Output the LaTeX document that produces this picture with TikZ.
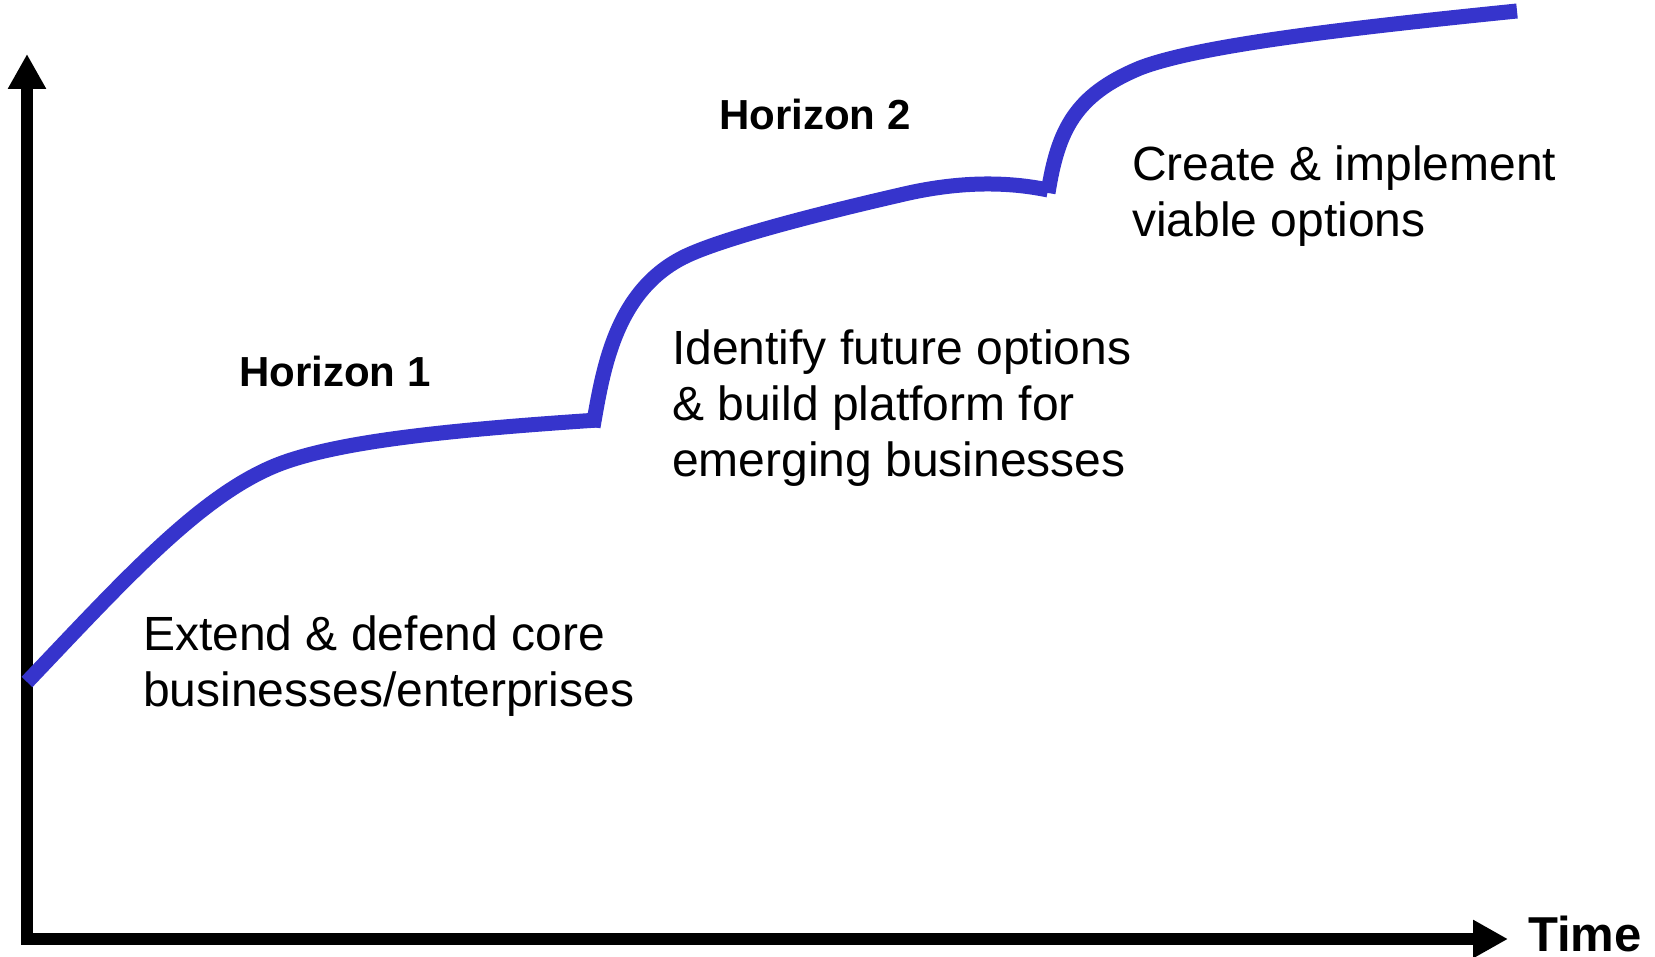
\documentclass[tikz,border=0pt]{standalone}
\usepackage{fontspec}
\setmainfont{Liberation Sans}
\usetikzlibrary{arrows.meta}
\definecolor{curveblue}{RGB}{54,52,204}
\begin{document}
\begin{tikzpicture}[x=1pt,y=-1pt,
  axis/.style={line width=12pt, line join=miter,
    {Triangle[length=35pt,width=36pt]}-{Triangle[length=35pt,width=36pt]}},
  growth/.style={curveblue, line width=15pt, line cap=butt, line join=round},
  label/.style={inner sep=0pt, anchor=base west, align=left,
    font=\fontsize{48}{56}\selectfont},
  horizon/.style={inner sep=0pt, anchor=base west,
    font=\fontsize{42}{50}\selectfont\bfseries},
]
\useasboundingbox (0,0) rectangle (1655,957);

% axes
\coordinate (ytop) at (27,54);
\coordinate (origin) at (27,939);
\coordinate (xend) at (1508,939);
\draw[axis] (ytop) -- (origin) -- (xend);
\node[inner sep=0pt, anchor=base west, text depth=0pt,
  font=\fontsize{49}{56}\selectfont\bfseries] (time) at (1528,951) {Time};

% the three growth curves
\draw[growth] (27,682) .. controls (127,577) and (205,490) .. (285,462)
  .. controls (345,441) and (448,430) .. (598,420);
\draw[growth] (593,427) .. controls (603,370) and (615,290) .. (686,256)
  .. controls (720,240) and (800,218) .. (900,195)
  .. controls (950,183) and (1000,180) .. (1048,190);
\draw[growth] (1048,193) .. controls (1058,130) and (1075,95) .. (1140,68)
  .. controls (1200,45) and (1350,28) .. (1517,11);

% labels (each node sits on the baseline of its last line)
\node[horizon] (h1) at (239,387) {Horizon 1};
\node[horizon] (h2) at (719,130) {Horizon 2};
\node[label] (core) at (143,706) {Extend \& defend core\\businesses/enterprises};
\node[label] (future) at (672,476) {Identify future options\\\& build platform for\\emerging businesses};
\node[label] (create) at (1132,237) {Create \& implement\\viable options};
\end{tikzpicture}
\end{document}
